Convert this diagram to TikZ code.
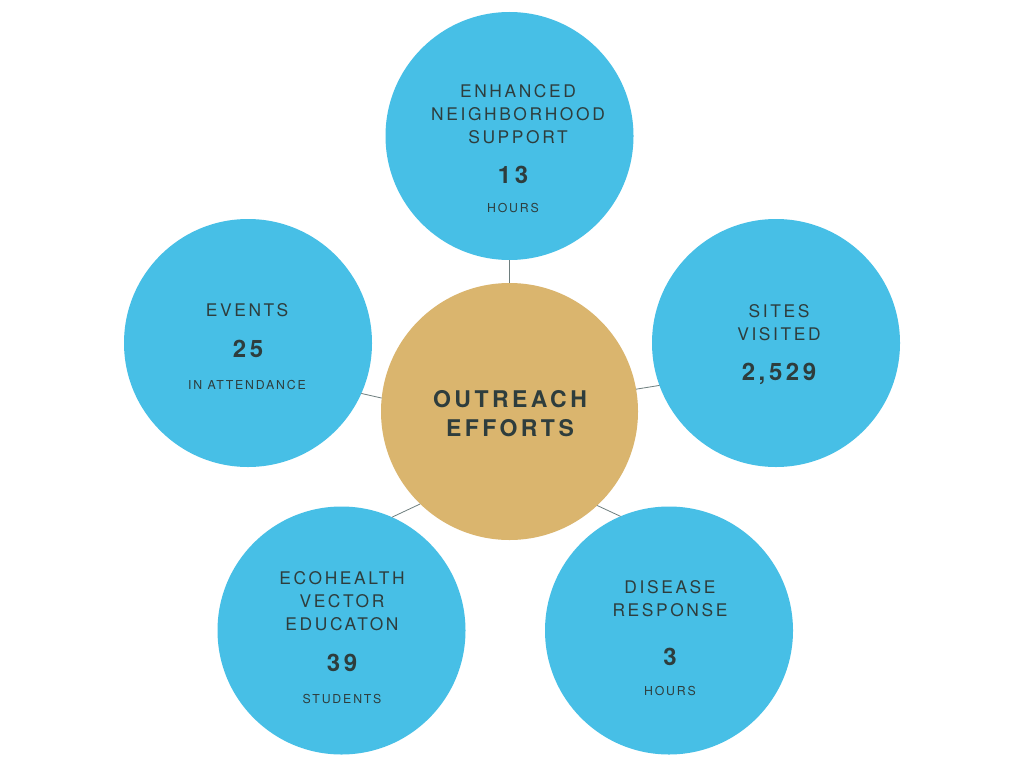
\documentclass[tikz,border=0pt]{standalone}
\usepackage{fontspec}
\newfontfamily\labf[LetterSpace=15]{TeX Gyre Heros}
\definecolor{bluec}{HTML}{47BFE6}
\definecolor{goldc}{HTML}{DAB56E}
\definecolor{txtc}{HTML}{2E3D3D}
\definecolor{linec}{HTML}{6E7E7E}
\tikzset{
  bubble/.style={circle, fill=bluec, draw=none, inner sep=0pt, outer sep=0pt, minimum size=248pt},
  hub/.style={circle, fill=goldc, draw=none, inner sep=0pt, outer sep=0pt, minimum size=257pt},
  lab/.style={anchor=base, inner sep=0pt, text=txtc, font=\labf\fontsize{17.4}{20}\selectfont},
  num/.style={anchor=base, inner sep=0pt, text=txtc, font=\labf\bfseries\fontsize{24}{28}\selectfont},
  small/.style={anchor=base, inner sep=0pt, text=txtc, font=\labf\fontsize{12.3}{14}\selectfont},
  hubtxt/.style={anchor=base, inner sep=0pt, text=txtc, font=\labf\bfseries\fontsize{23}{28}\selectfont},
  link/.style={draw=linec, line width=0.8pt}
}
\begin{document}
\begin{tikzpicture}[x=1pt,y=-1pt]
\useasboundingbox (0,0) rectangle (1024,768);
\fill[white] (0,0) rectangle (1024,768);
% circles
\node[hub] (c) at (509.5,411.5) {};
\node[bubble] (t) at (509.5,136) {};
\node[bubble] (l) at (248,343) {};
\node[bubble] (r) at (776,343) {};
\node[bubble] (bl) at (341.5,630.5) {};
\node[bubble] (br) at (669,630.5) {};
% connectors
\draw[link] (t.270) -- (c.90);
\draw[link] (l.-24) -- (c.174);
\draw[link] (r.200) -- (c.10);
\draw[link] (bl.66) -- (c.226);
\draw[link] (br.113) -- (c.313);
% hub text
\node[hubtxt] (c1) at (510,407.5) {OUTREACH};
\node[hubtxt] (c2) at (510,436.5) {EFFORTS};
% top
\node[lab] (t1) at (518,97) {ENHANCED};
\node[lab] (t2) at (518,120) {NEIGHBORHOOD};
\node[lab] (t3) at (518,143) {SUPPORT};
\node[num] (t4) at (513,183.5) {13};
\node[small] (t5) at (513,212.5) {HOURS};
% left
\node[lab] (l1) at (247,316) {EVENTS};
\node[num] (l2) at (248,357.5) {25};
\node[small] (l3) at (247,389.5) {IN ATTENDANCE};
% right
\node[lab] (r1) at (779,317) {SITES};
\node[lab] (r2) at (779,340) {VISITED};
\node[num] (r3) at (779,380.5) {2,529};
% bottom left
\node[lab] (b1) at (342,584) {ECOHEALTH};
\node[lab] (b2) at (342,607) {VECTOR};
\node[lab] (b3) at (342,630) {EDUCATON};
\node[num] (b4) at (342,671.5) {39};
\node[small] (b5) at (342,703.5) {STUDENTS};
% bottom right
\node[lab] (d1) at (670,593) {DISEASE};
\node[lab] (d2) at (670,616) {RESPONSE};
\node[num] (d3) at (670,665.5) {3};
\node[small] (d4) at (670,695.5) {HOURS};
\end{tikzpicture}
\end{document}
